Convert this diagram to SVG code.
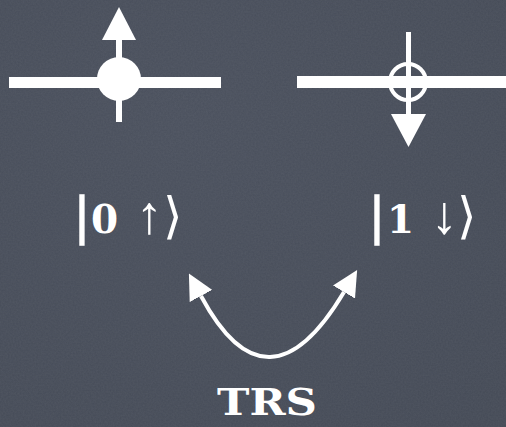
<svg xmlns="http://www.w3.org/2000/svg" width="506" height="427" viewBox="0 0 506 427">
<defs>
<radialGradient id="bg" cx="0.35" cy="0.3" r="0.9">
<stop offset="0" stop-color="#4a505d"/>
<stop offset="1" stop-color="#444a56"/>
</radialGradient>
<filter id="noise" x="0" y="0" width="1" height="1">
<feTurbulence type="fractalNoise" baseFrequency="0.6" numOctaves="2" seed="3" result="n"/>
<feColorMatrix in="n" type="matrix" values="0 0 0 0 1  0 0 0 0 1  0 0 0 0 1  0 0 0 0.06 0"/>
</filter>
<marker id="ah" viewBox="0 0 10 10" refX="0" refY="5" markerWidth="6.4" markerHeight="6.4" markerUnits="strokeWidth" orient="auto-start-reverse">
<path d="M0,0 L10,5 L0,10 Z" fill="#fff"/>
</marker>
<style>
.w{fill:#fff}
.ln{stroke:#fff;fill:none}
.lbl{font-family:"DejaVu Serif","Liberation Serif",serif;fill:#fff}
.bar{font-family:"Liberation Serif",serif;font-weight:bold;font-size:54px;stroke:#fff;stroke-width:1.5}
.arr{font-family:"Liberation Serif","DejaVu Serif",serif;font-size:54px}
.ang{font-family:"DejaVu Serif",serif;font-size:50px}
</style>
</defs>
<rect width="506" height="427" fill="url(#bg)"/>
<rect width="506" height="427" filter="url(#noise)"/>
<g id="spin-up">
<rect class="w" x="9" y="77" width="212" height="11"/>
<rect class="w" x="116" y="38" width="6" height="84"/>
<path class="w" d="M119,7 L136,40 L102,40 Z"/>
<circle class="w" cx="119" cy="79" r="22"/>
</g>
<g id="spin-down">
<rect class="w" x="297" y="76" width="209" height="12"/>
<rect class="w" x="406" y="32" width="5" height="84"/>
<path class="w" d="M408.5,147 L426,114 L391,114 Z"/>
<circle class="ln" cx="408" cy="82" r="18" stroke-width="4"/>
</g>
<g id="label-up">
<text class="lbl" y="233" font-size="39"><tspan class="bar" x="76">|</tspan><tspan x="91" font-weight="bold">0</tspan><tspan class="arr" x="136">↑</tspan><tspan class="ang" x="163">⟩</tspan></text>
</g>
<g id="label-down">
<text class="lbl" y="233" font-size="39"><tspan class="bar" x="371">|</tspan><tspan x="387" font-weight="bold">1</tspan><tspan class="arr" x="431">↓</tspan><tspan class="ang" x="457">⟩</tspan></text>
</g>
<g id="connectors">
<path class="ln" stroke-width="4" d="M201,296 Q267.5,420 344,292" marker-start="url(#ah)" marker-end="url(#ah)"/>
</g>
<g id="label-trs">
<text class="lbl" x="217" y="415" font-size="38" font-weight="bold" textLength="100" lengthAdjust="spacingAndGlyphs">TRS</text>
</g>
</svg>
